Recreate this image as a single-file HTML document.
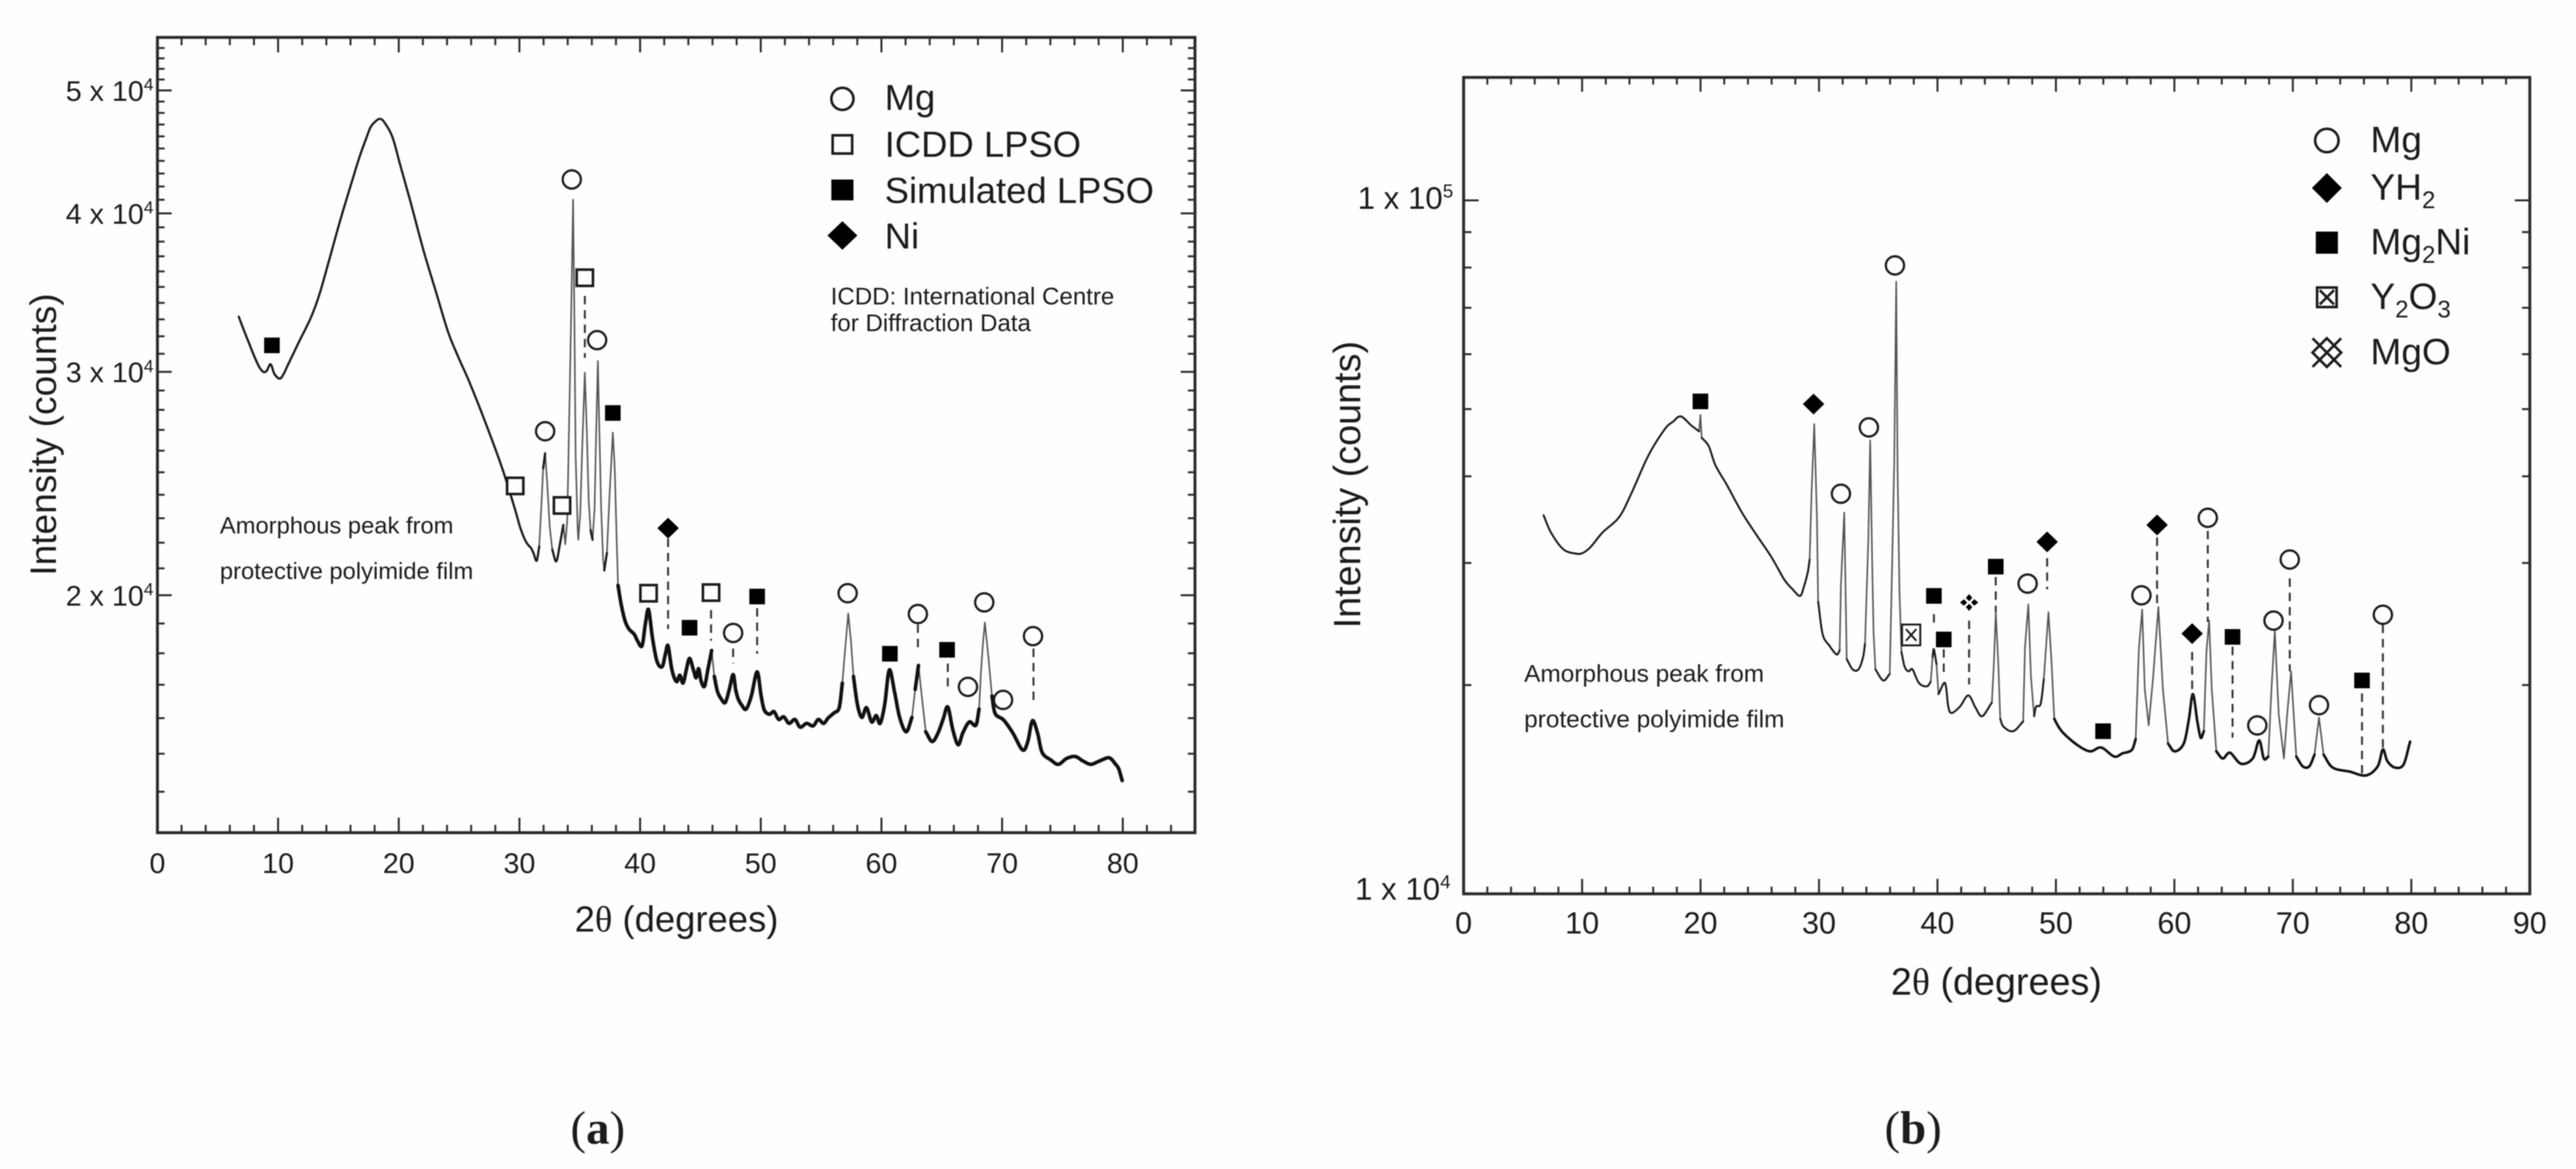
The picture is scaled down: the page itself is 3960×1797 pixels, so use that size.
<!DOCTYPE html>
<html lang="en">
<head>
<meta charset="utf-8">
<title>XRD patterns (a) and (b)</title>
<style>
html,body{margin:0;padding:0;background:#fefefe;}
svg{display:block;filter:blur(0.7px);}
text{font-family:"Liberation Sans",sans-serif;fill:#1c1c1c;}
</style>
</head>
<body>
<svg id="figure" xmlns="http://www.w3.org/2000/svg" width="3960" height="1797" viewBox="0 0 3960 1797">
  <rect x="0" y="0" width="3960" height="1797" fill="#fefefe"/>

  <g id="chartA">
    <rect x="242" y="57.5" width="1595" height="1222.5" fill="none" stroke="#2b2b2b" stroke-width="4.5"/>
    <text transform="translate(86,668) rotate(-90)" text-anchor="middle" font-size="57">Intensity (counts)</text>
    <text x="1040" y="1432" text-anchor="middle" font-size="56">2<tspan font-family="Liberation Serif">θ</tspan> (degrees)</text>
    <text x="338" y="820" font-size="36.5">Amorphous peak from</text>
    <text x="338" y="890" font-size="36.5">protective polyimide film</text>
    <g>
      <circle cx="1295" cy="152" r="17" fill="none" stroke="#1c1c1c" stroke-width="4"/>
      <rect x="1280" y="208" width="30" height="28" fill="none" stroke="#1c1c1c" stroke-width="4"/>
      <rect x="1278" y="276" width="34" height="32" fill="#000"/>
      <polygon points="1295,340 1318,362 1295,384 1272,362" fill="#000"/>
      <text x="1360" y="169" font-size="56">Mg</text>
      <text x="1360" y="241" font-size="56">ICDD LPSO</text>
      <text x="1360" y="312" font-size="56">Simulated LPSO</text>
      <text x="1360" y="382" font-size="56">Ni</text>
      <text x="1277" y="468" font-size="37">ICDD: International Centre</text>
      <text x="1277" y="509" font-size="37">for Diffraction Data</text>
    </g>
  </g>

  <g id="chartB">
    <rect x="2250" y="119" width="1639" height="1255" fill="none" stroke="#2b2b2b" stroke-width="4.5"/>
    <text transform="translate(2091,745) rotate(-90)" text-anchor="middle" font-size="58">Intensity (counts)</text>
    <text x="3069" y="1529" text-anchor="middle" font-size="58">2<tspan font-family="Liberation Serif">θ</tspan> (degrees)</text>
    <text x="2343" y="1048" font-size="37.5">Amorphous peak from</text>
    <text x="2343" y="1118" font-size="37.5">protective polyimide film</text>
    <g>
      <circle cx="3577" cy="216" r="18" fill="none" stroke="#1c1c1c" stroke-width="4"/>
      <polygon points="3577,266 3600,289 3577,312 3554,289" fill="#000"/>
      <rect x="3560" y="356" width="34" height="34" fill="#000"/>
      <g fill="none" stroke="#1c1c1c" stroke-width="4">
        <rect x="3562" y="442" width="30" height="30"/>
        <path d="M3566 446L3588 468M3588 446L3566 468"/>
      </g>
      <path d="M3555 520L3599 564M3599 520L3555 564M3577 520L3599 542L3577 564L3555 542Z" fill="none" stroke="#1c1c1c" stroke-width="4"/>
      <text x="3644" y="234" font-size="57">Mg</text>
      <text x="3644" y="307" font-size="57">YH<tspan font-size="37" dy="13">2</tspan></text>
      <text x="3644" y="391" font-size="57">Mg<tspan font-size="37" dy="13">2</tspan><tspan dy="-13">Ni</tspan></text>
      <text x="3644" y="475" font-size="57">Y<tspan font-size="37" dy="13">2</tspan><tspan dy="-13">O</tspan><tspan font-size="37" dy="13">3</tspan></text>
      <text x="3644" y="560" font-size="57">MgO</text>
    </g>
  </g>

  <text x="919" y="1758" text-anchor="middle" font-size="72" style="font-family:'Liberation Serif',serif">(<tspan font-weight="bold">a</tspan>)</text>
  <text x="2941" y="1758" text-anchor="middle" font-size="72" style="font-family:'Liberation Serif',serif">(<tspan font-weight="bold">b</tspan>)</text>
</svg>

<script>
// ---------- chart (a) axis data ----------
const xMajorTicksA = [0,10,20,30,40,50,60,70,80];
const xMinorTicksA = [2,4,6,8,12,14,16,18,22,24,26,28,32,34,36,38,42,44,46,48,52,54,56,58,62,64,66,68,72,74,76,78,82,84];
const yMajorTicksA = [20000,30000,40000,50000];
const yMajorMantissaA = ['2','3','4','5'];
const yMajorExponentA = ['4','4','4','4'];
const yMinorTicksA = [13000,14000,15000,16000,17000,18000,19000,21000,22000,23000,24000,25000,26000,27000,28000,29000,31000,32000,33000,34000,35000,36000,37000,38000,39000,41000,42000,43000,44000,45000,46000,47000,48000,49000,51000,52000,53000,54000];

// ---------- chart (a) series: 2-theta (degrees) and log10(counts) ----------
const curveAAngle = [
6.74,7.17,7.60,8.03,8.46,8.79,9.06,9.38,9.70,10.13,
10.46,10.84,11.75,12.72,13.42,14.29,15.15,16.17,16.77,17.36,
17.68,18.06,18.38,18.76,19.46,20.11,20.97,22.05,23.07,24.10,
24.96,25.82,27.17,28.57,29.60,30.08,30.46,30.73,30.94,31.16,
31.43,31.64,31.81,31.97,32.13,32.29,32.51,32.72,33.05,33.32,
33.64,33.80,33.96,34.12,34.29,34.45,34.56,34.66,34.83,34.88,
35.04,35.20,35.42,35.58,35.74,35.90,36.06,36.23,36.33,36.50,
36.60,36.77,36.93,37.03,37.25,37.47,37.74,37.90,38.06,38.17,
38.44,38.76,39.08,39.51,39.78,40.16,40.43,40.70,41.02,41.40,
41.83,42.10,42.32,42.64,43.02,43.29,43.56,43.83,44.10,44.42,
44.64,44.85,45.07,45.34,45.61,45.93,46.15,46.41,46.74,47.06,
47.39,47.71,47.92,48.14,48.46,48.79,49.22,49.70,50.03,50.30,
50.73,51.10,51.48,51.91,52.34,52.83,53.26,53.80,54.34,54.77,
55.20,55.58,56.06,56.50,56.76,57.03,57.25,57.47,57.68,58.01,
58.38,58.76,59.19,59.57,59.89,60.27,60.65,61.08,61.51,62.05,
62.53,62.80,63.07,63.34,63.67,64.20,64.69,65.12,65.50,65.93,
66.36,66.74,67.28,67.82,68.09,68.25,68.41,68.57,68.73,68.89,
69.16,69.43,70.13,70.89,71.70,72.13,72.51,72.94,73.32,74.02,
74.66,75.36,76.06,76.71,77.36,78.06,78.87,79.41,79.67,79.95];
const curveALog10Counts = [
4.5206,4.5098,4.4995,4.4893,4.4806,4.4770,4.4780,4.4831,4.4754,4.4718,
4.4754,4.4831,4.5011,4.5200,4.5380,4.5672,4.5965,4.6288,4.6472,4.6626,
4.6703,4.6744,4.6765,4.6744,4.6626,4.6406,4.6113,4.5729,4.5406,4.5082,
4.4882,4.4698,4.4375,4.4011,4.3698,4.3539,4.3447,4.3406,4.3385,4.3344,
4.3282,4.3395,4.3703,4.4011,4.4129,4.3908,4.3549,4.3370,4.3277,4.3395,
4.3565,4.3411,4.3600,4.4370,4.5241,4.6129,4.5139,4.4113,4.3524,4.3447,
4.3652,4.4165,4.4765,4.4318,4.3754,4.3524,4.3447,4.3703,4.4165,4.4857,
4.4421,4.3703,4.3293,4.3206,4.3344,4.3806,4.4293,4.4011,4.3447,4.3088,
4.2934,4.2806,4.2744,4.2703,4.2652,4.2611,4.2780,4.2898,4.2677,4.2488,
4.2447,4.2549,4.2611,4.2421,4.2329,4.2380,4.2318,4.2421,4.2513,4.2421,
4.2359,4.2431,4.2329,4.2293,4.2421,4.2575,4.2370,4.2252,4.2190,4.2165,
4.2267,4.2385,4.2267,4.2190,4.2139,4.2113,4.2216,4.2406,4.2216,4.2103,
4.2072,4.2093,4.2031,4.2052,4.2000,4.2031,4.1970,4.2000,4.1980,4.2031,
4.2000,4.2042,4.2082,4.2124,4.2318,4.2626,4.2867,4.2652,4.2370,4.2149,
4.2047,4.2124,4.2011,4.2062,4.2000,4.2149,4.2421,4.2252,4.2047,4.1934,
4.2047,4.2267,4.2457,4.2216,4.1934,4.1857,4.1924,4.2036,4.2129,4.1944,
4.1831,4.1924,4.2011,4.1985,4.2113,4.2406,4.2626,4.2795,4.2652,4.2498,
4.2216,4.2077,4.2026,4.1924,4.1790,4.1857,4.2021,4.1924,4.1770,4.1713,
4.1677,4.1724,4.1739,4.1703,4.1677,4.1703,4.1729,4.1677,4.1641,4.1549];

// ---------- chart (a) phase markers ----------
const mgAngleA = [34.34,36.44,32.13,47.71,57.20,63.02,68.52,72.56,67.17,70.08];
const mgLogA = [4.6288,4.5021,4.4303,4.2713,4.3026,4.2862,4.2954,4.2688,4.2288,4.2185];
const icddAngleA = [35.42,29.65,33.53,40.70,45.88];
const icddLogA = [4.5513,4.3872,4.3718,4.3026,4.3031];
const simAngleA = [9.49,37.74,44.10,49.70,60.70,65.44];
const simLogA = [4.4980,4.4447,4.2754,4.3000,4.2549,4.2580];
const niAngleA = [42.32];
const niLogA = [4.3539];
const stemAngleA = [35.42,42.32,45.88,47.71,49.70,63.02,65.50,72.60];
const stemTopLogA = [4.5370,4.3457,4.2893,4.2590,4.2908,4.2780,4.2472,4.2590];
const stemBottomLogA = [4.4882,4.2744,4.2652,4.2472,4.2549,4.2575,4.2257,4.2139];

// ---------- chart (b) axis data ----------
const xMajorTicksB = [0,10,20,30,40,50,60,70,80,90];
const xMinorTicksB = [2,4,6,8,12,14,16,18,22,24,26,28,32,34,36,38,42,44,46,48,52,54,56,58,62,64,66,68,72,74,76,78,82,84,86,88];
const yMajorTicksB = [100000];
const yMajorMantissaB = ['1'];
const yMajorExponentB = ['5'];
const yBottomLabelValueB = [10000];
const yBottomMantissaB = ['1'];
const yBottomExponentB = ['4'];
const yMinorTicksB = [20000,30000,40000,50000,60000,70000,80000,90000];

// ---------- chart (b) series ----------
const curveBAngle = [
6.75,7.36,8.40,9.45,10.05,10.71,11.75,13.12,14.17,15.60,
16.97,17.68,18.34,19.22,19.88,19.99,20.10,20.70,21.25,22.24,
23.50,24.71,25.97,27.07,27.73,28.39,28.72,29.05,29.21,29.38,
29.60,29.71,29.82,29.93,30.31,30.86,31.47,31.74,31.85,32.13,
32.24,32.34,32.84,33.33,33.72,33.88,34.16,34.32,34.49,34.60,
34.76,35.42,35.97,36.13,36.35,36.52,36.63,36.79,36.96,37.23,
37.56,37.89,38.44,39.10,39.43,39.59,39.70,39.92,40.09,40.64,
40.91,41.19,41.90,42.61,43.22,43.77,44.59,44.76,44.92,45.14,
45.30,45.58,46.40,47.23,47.39,47.67,47.89,48.16,48.33,48.71,
48.98,49.37,49.64,49.86,50.25,50.69,51.79,52.88,53.82,54.92,
55.63,56.40,56.73,57.00,57.28,57.50,57.83,58.21,58.65,59.03,
59.47,60.02,60.79,61.23,61.56,61.94,62.22,62.49,62.71,62.93,
63.15,63.54,64.09,64.69,65.62,66.61,67.16,67.55,67.93,68.20,
68.48,68.81,69.25,69.52,69.85,70.29,70.84,71.39,71.83,72.21,
72.60,73.37,74.79,76.17,77.16,77.60,77.98,78.64,79.35,79.90];
const curveBLog10Counts = [
4.5459,4.5215,4.4971,4.4906,4.4915,4.5000,4.5215,4.5431,4.5778,4.6322,
4.6698,4.6810,4.6885,4.6754,4.6669,4.6904,4.6576,4.6454,4.6182,4.5891,
4.5497,4.5178,4.4859,4.4531,4.4399,4.4296,4.4427,4.4634,4.4821,4.5825,
4.6773,4.6135,4.5469,4.4212,4.3743,4.3583,4.3452,4.3508,4.4456,4.5497,
4.4390,4.3386,4.3236,4.3236,4.3414,4.3602,4.5103,4.6538,4.4746,4.3790,
4.3236,4.3077,4.3170,4.4390,4.6182,4.8827,4.6182,4.4390,4.3489,4.3273,
4.3208,4.3236,4.3039,4.2992,4.3058,4.3414,4.3527,4.3311,4.2880,4.3039,
4.2701,4.2608,4.2701,4.2861,4.2683,4.2561,4.2758,4.3311,4.4062,4.3311,
4.2523,4.2410,4.2345,4.2486,4.3564,4.4174,4.3133,4.2561,4.2701,4.2739,
4.3095,4.4062,4.3311,4.2523,4.2401,4.2307,4.2148,4.2054,4.2110,4.1979,
4.2026,4.2073,4.2232,4.3527,4.4099,4.2955,4.2429,4.3133,4.4137,4.2955,
4.2167,4.2054,4.2167,4.2523,4.2880,4.2486,4.2251,4.2345,4.3489,4.3940,
4.2955,4.2054,4.1951,4.2035,4.1876,4.1951,4.2213,4.1951,4.1979,4.2955,
4.3799,4.2589,4.1951,4.2589,4.3208,4.1979,4.1838,4.1838,4.2007,4.2542,
4.2007,4.1820,4.1763,4.1707,4.1838,4.2082,4.1913,4.1820,4.1866,4.2195];

// ---------- chart (b) phase markers ----------
const mgAngleB = [36.41,34.21,31.85,47.61,57.22,62.82,69.74,68.37,67.00,72.21,77.60];
const mgLogB = [4.9062,4.6726,4.5769,4.4474,4.4305,4.5422,4.4821,4.3940,4.2429,4.2720,4.4024];
const yh2AngleB = [29.54,49.26,58.54,61.50];
const yh2LogB = [4.7063,4.5075,4.5319,4.3752];
const mg2niAngleB = [19.99,39.70,40.53,44.92,53.98,64.91,75.84];
const mg2niLogB = [4.7101,4.4296,4.3668,4.4718,4.2345,4.3705,4.3077];
const y2o3AngleB = [37.78];
const y2o3LogB = [4.3733];
const mgoAngleB = [42.67];
const mgoLogB = [4.4202];
const stemAngleB = [39.70,40.53,42.67,44.92,49.26,58.54,62.82,61.50,64.91,69.74,75.84,77.60];
const stemTopLogB = [4.4033,4.3527,4.3940,4.4568,4.4840,4.5140,4.5234,4.3489,4.3564,4.4549,4.2889,4.3883];
const stemBottomLogB = [4.3902,4.3170,4.3020,4.4062,4.4390,4.4174,4.3921,4.2842,4.2251,4.3208,4.1735,4.2082];

// ---------- axis functions ----------
function xA(deg){ return 242 + deg * 18.55; }
function yA(logCounts){ return 139 + (4.69897 - logCounts) * 1950; }
function xB(deg){ return 2250 + deg * 18.21; }
function yB(logCounts){ return 308 + (5 - logCounts) * 1066; }

const NS = 'http://www.w3.org/2000/svg';
const chartA = document.getElementById('chartA');
const chartB = document.getElementById('chartB');

function make(tag, parent, attrs){
  const el = document.createElementNS(NS, tag);
  for (const k in attrs) el.setAttribute(k, attrs[k]);
  parent.appendChild(el);
  return el;
}
function tickLine(parent, x1, y1, x2, y2, sw){
  const el = make('line', parent, {x1:x1, y1:y1, x2:x2, y2:y2, stroke:'#2b2b2b', 'stroke-width':sw});
  
  
  return el;
}
function xTickLabel(parent, x, y, size, txt){
  const el = make('text', parent, {x:x, y:y, 'text-anchor':'middle', 'font-size':size});
  el.textContent = txt;
  
  
}
function yTickLabel(parent, xEnd, y, size, supSize, mantissa, exponent){
  const el = make('text', parent, {x:xEnd, y:y, 'text-anchor':'end', 'font-size':size});
  el.appendChild(document.createTextNode(mantissa + ' x 10'));
  const sup = make('tspan', el, {'font-size':supSize, dy:-size*0.36});
  sup.textContent = exponent;
  
  
}
function stem(parent, x, y1, y2){
  const el = make('line', parent, {x1:x, y1:y1, x2:x, y2:y2, stroke:'#333', 'stroke-width':3, 'stroke-dasharray':'13 9'});
  
  
}
// Peaks are thin grey strokes; flat stretches are smoothed, and heavier past noiseFrom,
// where the measured trace is thickened by counting noise.
function curve(parent, xs, ys, xf, yf, thick, noisy, noiseFrom){
  const n = Math.min(xs.length, ys.length);
  const px = [], py = [];
  for (let i = 0; i < n; i++){ px.push(xf(xs[i])); py.push(yf(ys[i])); }
  function isSteep(i){
    if (i < 1 || i >= n) return true;
    return Math.abs(py[i] - py[i-1]) > 8 * Math.abs(px[i] - px[i-1]);
  }
  let steep = '', flat = '', rough = '';
  for (let i = 1; i < n; i++){
    const s = 'M' + px[i-1].toFixed(1) + ' ' + py[i-1].toFixed(1);
    if (isSteep(i)){
      steep += s + 'L' + px[i].toFixed(1) + ' ' + py[i].toFixed(1);
      continue;
    }
    let c1x = px[i-1] + (px[i] - px[i-1]) / 3, c1y = py[i-1] + (py[i] - py[i-1]) / 3;
    let c2x = px[i] - (px[i] - px[i-1]) / 3, c2y = py[i] - (py[i] - py[i-1]) / 3;
    if (!isSteep(i-1)){ c1x = px[i-1] + (px[i] - px[i-2]) / 6; c1y = py[i-1] + (py[i] - py[i-2]) / 6; }
    if (!isSteep(i+1) && i + 1 < n){ c2x = px[i] - (px[i+1] - px[i-1]) / 6; c2y = py[i] - (py[i+1] - py[i-1]) / 6; }
    const seg = s + 'C' + c1x.toFixed(1) + ' ' + c1y.toFixed(1) + ' ' + c2x.toFixed(1) + ' ' + c2y.toFixed(1) + ' ' + px[i].toFixed(1) + ' ' + py[i].toFixed(1);
    if (xs[i] >= noiseFrom) rough += seg; else flat += seg;
  }
  const a = make('path', parent, {d:steep, fill:'none', stroke:'#555', 'stroke-width':2.4, 'stroke-linecap':'round'});
  
  
  const b = make('path', parent, {d:flat, fill:'none', stroke:'#1a1a1a', 'stroke-width':thick, 'stroke-linecap':'round', 'stroke-linejoin':'round'});
  
  
  const c = make('path', parent, {d:rough, fill:'none', stroke:'#111', 'stroke-width':noisy, 'stroke-linecap':'round', 'stroke-linejoin':'round'});
  
  
}
function circleMarker(parent, cx, cy){
  const el = make('ellipse', parent, {cx:cx, cy:cy, rx:14, ry:14, fill:'#fefefe', stroke:'#1c1c1c', 'stroke-width':3.5});
  
  
}
function openSquareMarker(parent, cx, cy){
  const el = make('rect', parent, {x:cx-12.5, y:cy-12.5, width:25, height:25, fill:'#fefefe', stroke:'#1c1c1c', 'stroke-width':4});
  
  
}
function filledSquareMarker(parent, cx, cy){
  const el = make('rect', parent, {x:cx-12, y:cy-12, width:24, height:24, fill:'#000'});
  
  
}
function diamondMarker(parent, cx, cy){
  const el = make('polygon', parent, {points:(cx)+','+(cy-16)+' '+(cx+16.5)+','+cy+' '+cx+','+(cy+16)+' '+(cx-16.5)+','+cy, fill:'#000'});
  
  
}
function boxCrossMarker(parent, cx, cy){
  const g = make('g', parent, {fill:'#fefefe', stroke:'#1c1c1c', 'stroke-width':3});
  make('rect', g, {x:cx-14, y:cy-16, width:28, height:32});
  make('path', g, {d:'M'+(cx-8)+' '+(cy-9)+'L'+(cx+8)+' '+(cy+9)+'M'+(cx+8)+' '+(cy-9)+'L'+(cx-8)+' '+(cy+9)});
  
  
}
function latticeMarker(parent, cx, cy){
  const g = make('g', parent, {fill:'#000'});
  make('polygon', g, {points:cx+','+(cy-13)+' '+(cx+5)+','+(cy-7)+' '+cx+','+(cy-2)+' '+(cx-5)+','+(cy-7)});
  make('polygon', g, {points:cx+','+(cy+13)+' '+(cx+5)+','+(cy+7)+' '+cx+','+(cy+2)+' '+(cx-5)+','+(cy+7)});
  make('polygon', g, {points:(cx-14)+','+cy+' '+(cx-8)+','+(cy-5)+' '+(cx-3)+','+cy+' '+(cx-8)+','+(cy+5)});
  make('polygon', g, {points:(cx+14)+','+cy+' '+(cx+8)+','+(cy-5)+' '+(cx+3)+','+cy+' '+(cx+8)+','+(cy+5)});
  
  
}

// ---------- draw chart (a) ----------
const topA = 57.5, botA = 1280, leftA = 242, rightA = 1837;
xMajorTicksA.forEach(function(t){
  tickLine(chartA, xA(t), topA, xA(t), topA+23, 3);
  tickLine(chartA, xA(t), botA, xA(t), botA-23, 3);
  xTickLabel(chartA, xA(t), 1342, 44, String(t));
});
xMinorTicksA.forEach(function(t){
  tickLine(chartA, xA(t), topA, xA(t), topA+12, 3);
  tickLine(chartA, xA(t), botA, xA(t), botA-12, 3);
});
yMajorTicksA.forEach(function(v, i){
  const y = yA(Math.log10(v));
  tickLine(chartA, leftA, y, leftA+22, y, 3);
  tickLine(chartA, rightA, y, rightA-22, y, 3);
  yTickLabel(chartA, 236, y+16, 44, 27, yMajorMantissaA[i], yMajorExponentA[i]);
});
yMinorTicksA.forEach(function(v){
  const y = yA(Math.log10(v));
  tickLine(chartA, leftA, y, leftA+11, y, 3);
  tickLine(chartA, rightA, y, rightA-11, y, 3);
});
curve(chartA, curveAAngle, curveALog10Counts, xA, yA, 3.4, 5.5, 38);
stemAngleA.forEach(function(a, i){ stem(chartA, xA(a), yA(stemTopLogA[i]), yA(stemBottomLogA[i])); });
mgAngleA.forEach(function(a, i){ circleMarker(chartA, xA(a), yA(mgLogA[i])); });
icddAngleA.forEach(function(a, i){ openSquareMarker(chartA, xA(a), yA(icddLogA[i])); });
simAngleA.forEach(function(a, i){ filledSquareMarker(chartA, xA(a), yA(simLogA[i])); });
niAngleA.forEach(function(a, i){ diamondMarker(chartA, xA(a), yA(niLogA[i])); });

// ---------- draw chart (b) ----------
const topB = 119, botB = 1374, leftB = 2250, rightB = 3889;
xMajorTicksB.forEach(function(t){
  tickLine(chartB, xB(t), topB, xB(t), topB+22, 3);
  tickLine(chartB, xB(t), botB, xB(t), botB-23, 3);
  xTickLabel(chartB, xB(t), 1435, 47, String(t));
});
xMinorTicksB.forEach(function(t){
  tickLine(chartB, xB(t), topB, xB(t), topB+11, 3);
  tickLine(chartB, xB(t), botB, xB(t), botB-11, 3);
});
yMajorTicksB.forEach(function(v, i){
  const y = yB(Math.log10(v));
  tickLine(chartB, leftB, y, leftB+23, y, 3);
  tickLine(chartB, rightB, y, rightB-23, y, 3);
  yTickLabel(chartB, 2234, y+13, 48, 29, yMajorMantissaB[i], yMajorExponentB[i]);
});
yBottomLabelValueB.forEach(function(v, i){
  yTickLabel(chartB, 2230, yB(Math.log10(v))+9, 48, 29, yBottomMantissaB[i], yBottomExponentB[i]);
});
yMinorTicksB.forEach(function(v){
  const y = yB(Math.log10(v));
  tickLine(chartB, leftB, y, leftB+12, y, 3);
  tickLine(chartB, rightB, y, rightB-12, y, 3);
});
curve(chartB, curveBAngle, curveBLog10Counts, xB, yB, 3, 4, 50);
stemAngleB.forEach(function(a, i){ stem(chartB, xB(a), yB(stemTopLogB[i]), yB(stemBottomLogB[i])); });
mgAngleB.forEach(function(a, i){ circleMarker(chartB, xB(a), yB(mgLogB[i])); });
yh2AngleB.forEach(function(a, i){ diamondMarker(chartB, xB(a), yB(yh2LogB[i])); });
mg2niAngleB.forEach(function(a, i){ filledSquareMarker(chartB, xB(a), yB(mg2niLogB[i])); });
y2o3AngleB.forEach(function(a, i){ boxCrossMarker(chartB, xB(a), yB(y2o3LogB[i])); });
mgoAngleB.forEach(function(a, i){ latticeMarker(chartB, xB(a), yB(mgoLogB[i])); });
</script>
</body>
</html>
